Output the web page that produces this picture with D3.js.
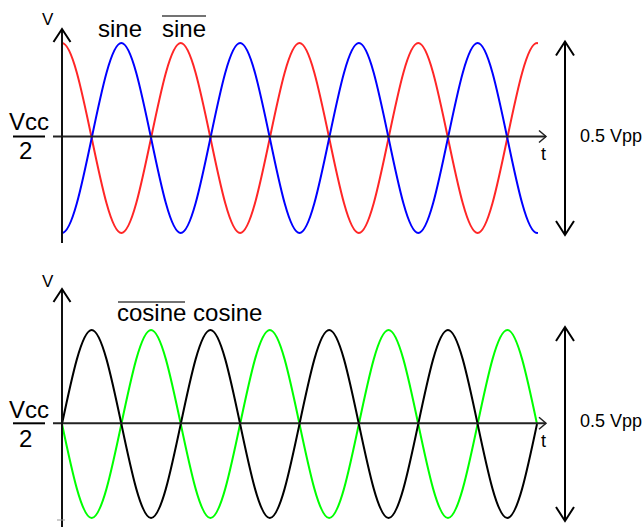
<!DOCTYPE html>
<html>
<head>
<meta charset="utf-8">
<script src="https://cdn.jsdelivr.net/npm/d3@7"></script>
<style>
  body { margin: 0; background: #fff; }
  text { font-family: "Liberation Sans", Arial, sans-serif; fill: #000; }
</style>
</head>
<body>
<svg id="chart" width="644" height="527"></svg>
<script>
// time in periods, sampled at quarter periods (crossings and peaks read off the picture)
// the top panel carries one extra quarter each side so the ends are not flattened
const tTop    = [-0.25, 0, 0.25, 0.5, 0.75, 1, 1.25, 1.5, 1.75, 2, 2.25, 2.5, 2.75, 3, 3.25, 3.5, 3.75, 4, 4.25]
const tBottom = [0, 0.25, 0.5, 0.75, 1, 1.25, 1.5, 1.75, 2, 2.25, 2.5, 2.75, 3, 3.25, 3.5, 3.75, 4]

// top panel
const sineVals    = [0, -1, 0, 1, 0, -1, 0, 1, 0, -1, 0, 1, 0, -1, 0, 1, 0, -1, 0]
const sineBarVals = [0, 1, 0, -1, 0, 1, 0, -1, 0, 1, 0, -1, 0, 1, 0, -1, 0, 1, 0]
// bottom panel
const cosineVals    = [0, 1, 0, -1, 0, 1, 0, -1, 0, 1, 0, -1, 0, 1, 0, -1, 0]
const cosineBarVals = [0, -1, 0, 1, 0, -1, 0, 1, 0, -1, 0, 1, 0, -1, 0, 1, 0]

const ampLabel = '0.5 Vpp'

const svg = d3.select('#chart')

// x scale shared by both panels
const xScale = d3.scaleLinear().domain([0, 4]).range([62, 537])

// clip so the waves stop at t = 0 and t = 4
svg.append('defs').append('clipPath').attr('id', 'waveClip')
  .append('rect')
  .attr('x', xScale(0) - 1).attr('y', 0)
  .attr('width', xScale(4) - xScale(0) + 2).attr('height', 527)

// panels: y scale, axis position, series
const panels = [
  {
    t: tTop,
    y: d3.scaleLinear().domain([-1, 1]).range([233, 43]),
    axisY: 136.5, yTop: 29, yBottom: 243, vY: 25, arrowTop: 41.5, arrowBottom: 235,
    labelY: 142, tY: 160, vccY: 130,
    series: [{ vals: sineBarVals, color: '#ff2626' }, { vals: sineVals, color: '#0000ff' }]
  },
  {
    t: tBottom,
    y: d3.scaleLinear().domain([-1, 1]).range([518, 330]),
    axisY: 423.3, yTop: 289, yBottom: 527, vY: 287, arrowTop: 327, arrowBottom: 521,
    labelY: 427, tY: 447, vccY: 417.5,
    series: [{ vals: cosineBarVals, color: '#00ff00' }, { vals: cosineVals, color: '#000000' }]
  }
]

const chevron = (g, x, y, dx, dy) => {
  g.append('path')
    .attr('d', `M${x - dx},${y + dy}L${x},${y}L${x + dx},${y + dy}`)
    .attr('fill', 'none')
    .attr('stroke', '#000')
    .attr('stroke-width', 2)
}

panels.forEach(p => {
  const g = svg.append('g')

  // waves
  const line = d3.line()
    .x((d, i) => xScale(p.t[i]))
    .y(d => p.y(d))
    .curve(d3.curveNatural)

  p.series.forEach(s => {
    g.append('path')
      .attr('d', line(s.vals))
      .attr('clip-path', 'url(#waveClip)')
      .attr('fill', 'none')
      .attr('stroke', s.color)
      .attr('stroke-width', 2)
  })

  // horizontal axis (t)
  g.append('line')
    .attr('x1', 53).attr('x2', 546)
    .attr('y1', p.axisY).attr('y2', p.axisY)
    .attr('stroke', '#222').attr('stroke-width', 2)
  g.append('path')
    .attr('d', `M539,${p.axisY - 6}L546,${p.axisY}L539,${p.axisY + 6}`)
    .attr('fill', 'none').attr('stroke', '#222').attr('stroke-width', 1.5)

  // vertical axis (V)
  g.append('line')
    .attr('x1', 62).attr('x2', 62)
    .attr('y1', p.yTop).attr('y2', p.yBottom)
    .attr('stroke', '#111').attr('stroke-width', 2)
  chevron(g, 62, p.yTop, 8.5, 13)

  // double arrow for amplitude
  g.append('line')
    .attr('x1', 565).attr('x2', 565)
    .attr('y1', p.arrowTop).attr('y2', p.arrowBottom)
    .attr('stroke', '#000').attr('stroke-width', 2)
  chevron(g, 565, p.arrowTop, 9, 14)
  chevron(g, 565, p.arrowBottom, 9, -14)

  // texts
  g.append('text').attr('x', 42).attr('y', p.vY).style('font-size', '17px').text('V')
  g.append('text').attr('x', 541).attr('y', p.tY).style('font-size', '18px').text('t')
  g.append('text').attr('x', 580).attr('y', p.labelY).style('font-size', '18px').text(ampLabel)

  // Vcc / 2 fraction
  g.append('text').attr('x', 9).attr('y', p.vccY).style('font-size', '24px').text('Vcc')
  g.append('line')
    .attr('x1', 13).attr('x2', 45)
    .attr('y1', p.axisY).attr('y2', p.axisY)
    .attr('stroke', '#000').attr('stroke-width', 2)
  g.append('text').attr('x', 19).attr('y', p.vccY + 29).style('font-size', '24px').text('2')
})

// series names
svg.append('text').attr('x', 98).attr('y', 37).style('font-size', '24px').text('sine')
svg.append('text').attr('x', 162).attr('y', 37).style('font-size', '24px').text('sine')
svg.append('line').attr('x1', 162).attr('x2', 206).attr('y1', 16).attr('y2', 16)
  .attr('stroke', '#444').attr('stroke-width', 1.5)

svg.append('text').attr('x', 117).attr('y', 321).style('font-size', '24px').text('cosine cosine')
svg.append('line').attr('x1', 118).attr('x2', 185).attr('y1', 302).attr('y2', 302)
  .attr('stroke', '#444').attr('stroke-width', 1.5)

// small grey tick near bottom of lower axis
svg.append('line').attr('x1', 57).attr('x2', 65).attr('y1', 520).attr('y2', 520)
  .attr('stroke', '#999').attr('stroke-width', 1)
</script>
</body>
</html>
